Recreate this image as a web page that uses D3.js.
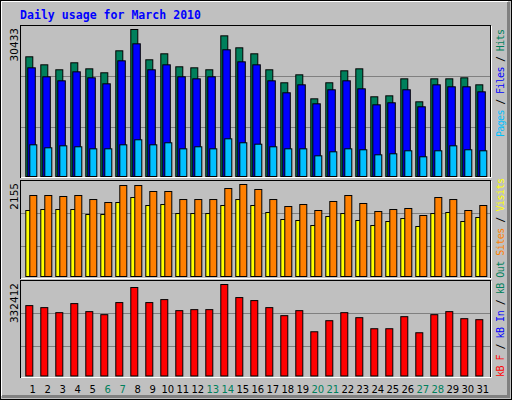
<!DOCTYPE html>
<html><head><meta charset="utf-8">
<script src="https://cdn.jsdelivr.net/npm/d3@7"></script>
<style>body{margin:0;background:#fff}</style>
</head><body><svg id="c" width="512" height="400"></svg>
<script>
const days = d3.range(1, 32);
const weekend = [6, 7, 13, 14, 20, 21, 27, 28];
const hits = [24780,23120,22090,23540,22290,21470,26020,30433,24160,25400,22710,22500,22090,29120,26640,25400,22090,19400,21050,16080,19400,21880,22290,16500,16700,20220,15460,20220,20220,20430,18980];
const files = [22500,20640,19810,21670,20430,19190,23950,27470,22090,23120,20640,20220,20640,26230,23740,23120,19810,17330,18980,15050,17950,19810,18150,14840,15260,17950,14430,18980,18570,18570,17530];
const pages = [6560,5940,6350,6150,5730,5730,6560,7600,6560,6980,5730,6150,5730,7800,6980,6690,6150,5730,5730,4280,5110,5730,5530,4490,4700,5320,4080,5320,6350,5530,5320];
const sites = [1897,1897,1874,1897,1803,1733,2131,2131,1991,1991,1803,1803,1803,2061,2155,2038,1803,1639,1686,1546,1757,1897,1710,1522,1569,1593,1429,1850,1803,1546,1663];
const visits = [1546,1569,1569,1569,1452,1452,1733,1850,1663,1686,1475,1475,1475,1663,1803,1663,1499,1335,1312,1194,1405,1475,1312,1194,1288,1358,1171,1475,1499,1288,1382];
const kbytes = [255700,248400,230100,263000,233800,222800,266700,321500,266700,277600,237400,241100,241100,332412,284900,274000,248400,219200,237400,160700,200900,230100,211900,171700,171700,215500,157100,222800,233800,208200,204600];
const maxLabels = ["30433", "2155", "332412"];

const svg = d3.select("#c");
const mono = "'DejaVu Sans Mono', monospace";
svg.append("rect").attr("width",512).attr("height",400).attr("fill","#c0c0c0");
svg.append("rect").attr("x",0.5).attr("y",0.5).attr("width",511).attr("height",399).attr("fill","none").attr("stroke","#000");
svg.append("path").attr("d","M1.5,396V1.5H508").attr("stroke","#fff").attr("fill","none");
svg.append("path").attr("d","M2,396.5H508.5V2").attr("stroke","#808080").attr("stroke-width",3).attr("fill","none");

svg.append("text").attr("x",20).attr("y",19).attr("fill","#0000ff").attr("font-family",mono)
  .attr("font-weight","bold").attr("font-size",11.5).attr("textLength",181).text("Daily usage for March 2010");

const x = d3.scaleLinear().domain([1, 31]).range([25.3, 475.3]);

const panels = [
  {top:25, bottom:177, base:176, maxY:29, max:hits[7]},
  {top:180, bottom:278, base:276, maxY:184, max:d3.max(sites)},
  {top:280, bottom:377, base:375.5, maxY:284, max:d3.max(kbytes)}
];
panels.forEach((p,i)=>{
  p.y = d3.scaleLinear().domain([0,p.max]).range([p.base,p.maxY]);
  svg.append("rect").attr("x",20.5).attr("y",p.top+0.5).attr("width",470).attr("height",p.bottom-p.top)
    .attr("fill","#c0c0c0").attr("stroke","#000");
  svg.append("path").attr("d",`M21,${p.bottom+0.5}H491.5V${p.top+1}`).attr("stroke","#fff").attr("fill","none");
  const gl = i==0 ? [p.max/3, p.max*0.68] : (i==1 ? [p.max*0.68, p.max*0.326] : [p.max*0.68, p.max*0.32]);
  gl.forEach(v=>svg.append("line").attr("x1",21).attr("x2",490).attr("y1",Math.round(p.y(v))+0.5).attr("y2",Math.round(p.y(v))+0.5)
    .attr("stroke","#808080"));
  svg.append("text").attr("transform",`translate(18,${p.maxY-1}) rotate(-90)`).attr("text-anchor","end")
    .attr("font-family","'DejaVu Sans', sans-serif").attr("font-size",10.5).attr("fill","#000").text(maxLabels[i]);
});

function bars(data, p, off, w, color){
  svg.append("g").selectAll("rect").data(data).join("rect")
    .attr("x",(d,i)=>x(days[i])+off+0.5).attr("width",w)
    .attr("y",d=>p.y(d)+0.5).attr("height",d=>p.base-p.y(d))
    .attr("fill",color).attr("stroke","#000");
}
bars(hits, panels[0], 0, 7, "#00805c");
bars(files, panels[0], 2, 7.5, "#0000ff");
bars(pages, panels[0], 4, 7, "#00c0ff");
bars(visits, panels[1], 0, 7, "#ffff00");
bars(sites, panels[1], 4, 7, "#ff8000");
bars(kbytes, panels[2], 0, 7, "#ff0000");

svg.append("g").selectAll("text").data(days).join("text")
  .attr("x",d=>x(d)+7.5).attr("y",393).attr("text-anchor","middle")
  .attr("font-family","'DejaVu Sans', sans-serif").attr("font-size",10)
  .attr("fill",d=>weekend.includes(d)?"#00805c":"#000").text(d=>d);

function legend(y0, len, parts){
  const t = svg.append("text").attr("transform",`translate(504,${y0}) rotate(-90)`)
    .attr("font-family",mono).attr("font-size",10).attr("textLength",len).attr("lengthAdjust","spacing");
  parts.forEach(([s,c])=>t.append("tspan").attr("fill",c).text(s));
}
legend(137, 108, [["Pages","#00c0ff"],[" / ","#000"],["Files","#0000ff"],[" / ","#000"],["Hits","#00805c"]]);
legend(377, 199, [["kB F","#ff0000"],[" / ","#000"],["kB In","#0000ff"],[" / ","#000"],["kB Out","#00805c"],[" ","#000"],["Sites","#ff8000"],[" / ","#000"],["Visits","#ffff00"]]);
</script></body></html>
